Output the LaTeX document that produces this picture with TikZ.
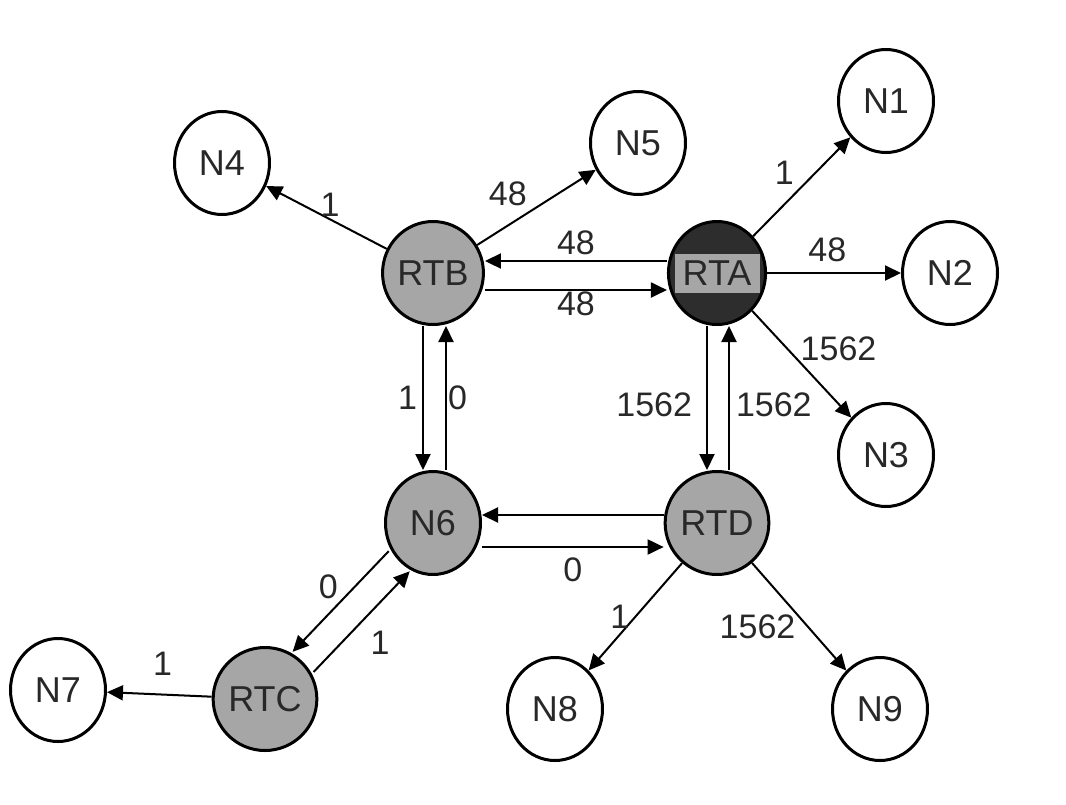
\documentclass[tikz,border=0pt]{standalone}
\usepackage{fontspec}
\setmainfont{Liberation Sans}
\usetikzlibrary{positioning,shapes.geometric,arrows.meta}
\definecolor{rtgray}{RGB}{166,166,166}
\definecolor{rtdark}{RGB}{45,45,45}
\definecolor{txtgray}{RGB}{40,40,40}
\tikzset{end node/.style={ellipse, draw, line width=1.5pt, fill=white, minimum width=47.5pt, minimum height=51.5pt, inner sep=0pt, text=txtgray, font=\fontsize{18}{20}\selectfont}}
\tikzset{rt node/.style={end node, fill=rtgray}}
\tikzset{hub node/.style={end node, fill=rtdark, path picture={\fill[rtgray] ([xshift=-21.25pt,yshift=-9.75pt]path picture bounding box.center) rectangle ++(42.5pt,19.5pt);}}}
\tikzset{cost/.style={font=\fontsize{17}{19}\selectfont, text=txtgray}}

\begin{document}
\begin{tikzpicture}[x=0.5pt, y=-0.5pt, on grid, >={Triangle[length=8pt,width=7.5pt]}]
			% Frame of the whole picture
			\useasboundingbox (0,0) rectangle (1066,804);
			% Routers in the middle
			\node[rt node] (RTB) at (433,273) {RTB};
			\node[hub node] (RTA) [right = 142pt of RTB] {RTA};
			\node[rt node] (N6) [below = 125pt of RTB] {N6};
			\node[rt node] (RTD) [below = 125pt of RTA] {RTD};
			\node[rt node] (RTC) [below left = 88pt and 84pt of N6] {RTC};
			% End nodes round them
			\node[end node] (N1) [above right = 86pt and 84.5pt of RTA] {N1};
			\node[end node] (N2) [right = 116.5pt of RTA] {N2};
			\node[end node] (N3) [below right = 91pt and 84.5pt of RTA] {N3};
			\node[end node] (N4) [above left = 55pt and 105.5pt of RTB] {N4};
			\node[end node] (N5) [above right = 65pt and 102.5pt of RTB] {N5};
			\node[end node] (N7) [above left = 4.5pt and 103.5pt of RTC] {N7};
			\node[end node] (N8) [below left = 93pt and 81pt of RTD] {N8};
			\node[end node] (N9) [below right = 93pt and 81.5pt of RTD] {N9};

			\path[draw, line width=1pt, ->]
			% Edges of RTB
			(RTB) edge node[cost, above, inner sep=0.75pt, pos=.47] {1} (N4)
			(RTB) edge node[cost, above left, inner sep=2pt, pos=.46] {48} (N5)
			(RTA) edge[transform canvas={yshift=6pt}] node[cost, above, inner sep=2.75pt] {48} (RTB)
			(RTB) edge[transform canvas={yshift=-8.5pt}] node[cost, below, inner sep=0.5pt] {48} (RTA)
			(RTB) edge[transform canvas={xshift=-5pt}] node[cost, left, inner sep=2.5pt] {1} (N6)
			(N6) edge[transform canvas={xshift=6.5pt}] node[cost, right, inner sep=0.5pt] {0} (RTB)
			% Edges of RTA
			(RTA) edge node[cost, above left, inner sep=2pt, pos=.47] {1} (N1)
			(RTA) edge node[cost, above, inner sep=5pt, pos=.45] {48} (N2)
			(RTA) edge node[cost, anchor=south west, inner sep=0pt, pos=.48] {1562} (N3)
			(RTA) edge[transform canvas={xshift=-5pt}] node[cost, left, inner sep=7pt, pos=.55] {1562} (RTD)
			(RTD) edge[transform canvas={xshift=6pt}] node[cost, right, inner sep=3pt, pos=.45] {1562} (RTA)
			% Edges of N6 and RTD
			(RTD) edge[transform canvas={yshift=4pt}] (N6)
			(N6) edge[transform canvas={yshift=-12pt}] node[cost, below, inner sep=5pt] {0} (RTD)
			(RTD) edge node[cost, left, inner sep=2.5pt, pos=.5] {1} (N8)
			(RTD) edge node[cost, anchor=north east, inner sep=0pt, pos=.47] {1562} (N9)
			% Edges of RTC
			(N6) edge[transform canvas={shift={(-4.55pt,4.35pt)}}] node[cost, above left, inner sep=1pt] {0} (RTC)
			(RTC) edge[transform canvas={shift={(5.95pt,-5.7pt)}}] node[cost, below right, inner sep=4pt] {1} (N6)
			(RTC) edge node[cost, above, inner sep=9pt, pos=.47] {1} (N7);
\end{tikzpicture}
\end{document}
